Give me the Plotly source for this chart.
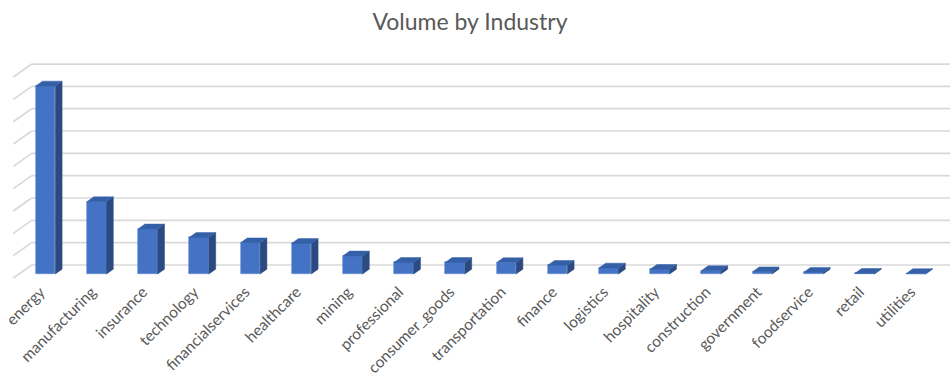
import plotly.graph_objects as go

# ---- data ----
categories = ["energy", "manufacturing", "insurance", "technology", "financialservices",
              "healthcare", "mining", "professional", "consumer_goods", "transportation",
              "finance", "logistics", "hospitality", "construction", "government",
              "foodservice", "retail", "utilities"]
volumes = [842, 324, 202, 164, 140, 137, 81, 52, 52, 51, 39, 27, 21, 15, 10, 8, 3, 2]
grid_values = [0, 100, 200, 300, 400, 500, 600, 700, 800, 900]
title_text = "Volume by Industry"

# ---- geometry (pixel scale -> data units) ----
W, H = 950, 376
PX_PER_CAT = 51.2          # px per category step
PX_PER_VAL = 0.2233        # px per value unit
X0_PX = 45.5               # px of first category centre
BASE_PX = 274              # px of value 0 at bar front
TOP_PX, BOT_PX = 40, 282   # plot area

x_range = [(0 - X0_PX) / PX_PER_CAT, (W - X0_PX) / PX_PER_CAT]
y_range = [-(BOT_PX - BASE_PX) / PX_PER_VAL, (BASE_PX - TOP_PX) / PX_PER_VAL]

bar_w = 19.6 / PX_PER_CAT
ddx, ddy = 6.8 / PX_PER_CAT, 4.8 / PX_PER_VAL          # bar depth offset
bdx, bdy = 12.7 / PX_PER_CAT, 9.0 / PX_PER_VAL          # back wall offset
fdx, fdy = -5.7 / PX_PER_CAT, -4.0 / PX_PER_VAL         # front plane offset
wall_x_front = (13.3 - X0_PX) / PX_PER_CAT
wall_x_back = (31.7 - X0_PX) / PX_PER_CAT

FRONT = "#4472C4"
SIDE = "#2C4A82"
TOP = "#3560A8"
GRID = "#d9d9d9"
TXT = "#595959"

fig = go.Figure()

# front faces
xs = list(range(len(categories)))
fig.add_trace(go.Bar(x=xs, y=volumes, width=bar_w, marker=dict(color=FRONT,
                     line=dict(color="#5B86D2", width=0.6)), hoverinfo="skip",
                     showlegend=False))

# side & top faces
side_x, side_y, top_x, top_y = [], [], [], []
for i, v in enumerate(volumes):
    r = i + bar_w / 2
    l = i - bar_w / 2
    side_x += [r, r, r + ddx, r + ddx, r, None]
    side_y += [0, v, v + ddy, ddy, 0, None]
    top_x += [l, r, r + ddx, l + ddx, l, None]
    top_y += [v, v, v + ddy, v + ddy, v, None]

fig.add_trace(go.Scatter(x=side_x, y=side_y, mode="lines", fill="toself",
                         fillcolor=SIDE, line=dict(color=SIDE, width=0.5),
                         hoverinfo="skip", showlegend=False))
fig.add_trace(go.Scatter(x=top_x, y=top_y, mode="lines", fill="toself",
                         fillcolor=TOP, line=dict(color=TOP, width=0.5),
                         hoverinfo="skip", showlegend=False))

# back wall + side wall gridlines
shapes = []
for g in grid_values:
    shapes.append(dict(type="line", xref="x", yref="y", layer="below",
                       x0=wall_x_back, y0=g + bdy, x1=x_range[1], y1=g + bdy,
                       line=dict(color=GRID, width=1.7)))
    shapes.append(dict(type="line", xref="x", yref="y", layer="below",
                       x0=wall_x_front, y0=g + fdy, x1=wall_x_back, y1=g + bdy,
                       line=dict(color=GRID, width=1.7)))

fig.update_layout(
    width=W, height=H,
    margin=dict(l=0, r=0, t=TOP_PX, b=H - BOT_PX),
    paper_bgcolor="white", plot_bgcolor="white",
    shapes=shapes,
    title=dict(text=title_text, x=470 / W, xanchor="center", y=1 - 22 / H,
               yanchor="middle", font=dict(family="Lato", size=23, color=TXT)),
    xaxis=dict(range=x_range, tickvals=xs, ticktext=categories, tickangle=-45,
               showgrid=False, zeroline=False, showline=False, ticks="",
               ticklabelshift=-5, ticklabelstandoff=-3, automargin=False,
               tickfont=dict(family="Lato", size=15.5, color=TXT), fixedrange=True),
    yaxis=dict(range=y_range, visible=False, fixedrange=True, automargin=False),
    bargap=0,
)

fig.write_html("out.html")
